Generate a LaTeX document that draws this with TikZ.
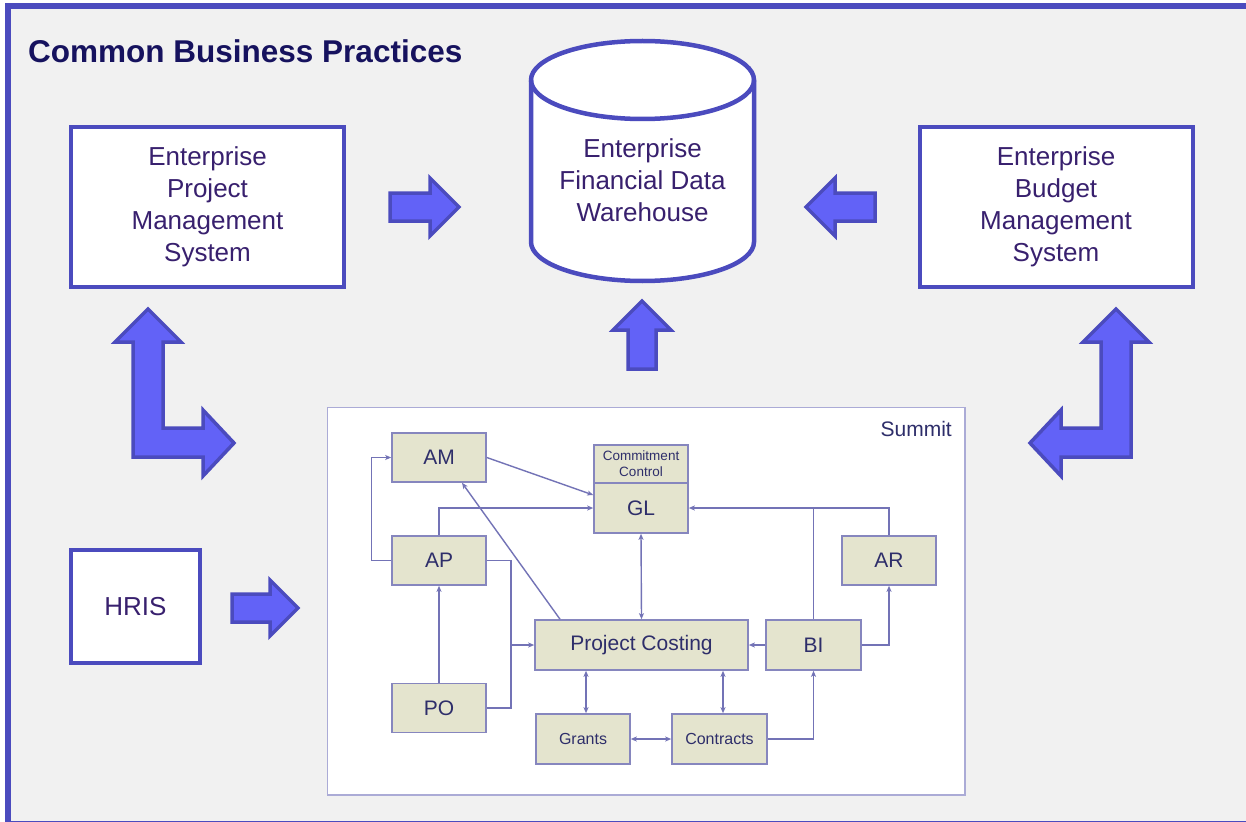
\documentclass[tikz,border=0pt]{standalone}
\usepackage{fontspec}
\setmainfont{Liberation Sans}
\usetikzlibrary{arrows.meta,calc}
\definecolor{framec}{HTML}{4B4BBE}
\definecolor{panelbg}{HTML}{F1F1F1}
\definecolor{arrowfill}{HTML}{6262F7}
\definecolor{titlec}{HTML}{16125E}
\definecolor{bigtext}{HTML}{38206E}
\definecolor{modfill}{HTML}{E4E4CE}
\definecolor{modline}{HTML}{8686BE}
\definecolor{linkc}{HTML}{7373B6}
\definecolor{modtext}{HTML}{2E2E6A}
\definecolor{summitline}{HTML}{ABABD6}
\tikzset{
  bigbox/.style={draw=framec, line width=4pt, fill=white, text=bigtext,
    align=center, font=\fontsize{26}{32}\selectfont, inner sep=0pt},
  blockarrow/.style={draw=framec, fill=arrowfill, line width=3.5pt, line join=miter},
  module/.style={draw=modline, line width=1.6pt, fill=modfill, text=modtext,
    minimum width=94pt, minimum height=49pt, inner sep=0pt,
    font=\fontsize{21}{24}\selectfont},
  smallmod/.style={module, font=\fontsize{16}{18}\selectfont},
  link/.style={draw=linkc, line width=1.4pt,
    -{Stealth[length=6pt,width=5pt,inset=1.5pt]}},
  dlink/.style={link, {Stealth[length=6pt,width=5pt,inset=1.5pt]}-{Stealth[length=6pt,width=5pt,inset=1.5pt]}},
  plain/.style={draw=linkc, line width=1.4pt}
}
\begin{document}
\begin{tikzpicture}[x=1pt,y=-1pt]
\useasboundingbox (0,0) rectangle (1246,821);
\fill[white] (0,0) rectangle (1246,821);
% outer panel
\fill[panelbg] (8,6) rectangle (1262,824);
\draw[framec, line width=6pt] (8,6) rectangle (1262,824);
\node[anchor=base west, text=titlec, font=\bfseries\fontsize{31.5}{36}\selectfont, inner sep=0pt]
  (title) at (28,63) {Common Business Practices};

% enterprise systems
\node[bigbox, minimum width=273pt, minimum height=160pt] (epms) at (207.5,207)
  {Enterprise\\Project\\Management\\System};
\node[bigbox, minimum width=273pt, minimum height=160pt] (ebms) at (1056,207)
  {Enterprise\\Budget\\Management\\System};
\node[bigbox, minimum width=129pt, minimum height=113pt] (hris) at (135.5,606.5) {HRIS};

% data warehouse cylinder (y radius negative because the y axis points down)
\draw[framec, line width=4.5pt, fill=white]
  (531,80) -- (531,242) arc[start angle=180, end angle=360, x radius=111.5, y radius=-39]
  -- (754,80) arc[start angle=0, end angle=180, x radius=111.5, y radius=-39] -- cycle;
\draw[framec, line width=4.5pt]
  (531,80) arc[start angle=180, end angle=360, x radius=111.5, y radius=-39];
\node[text=bigtext, align=center, font=\fontsize{26}{32}\selectfont, inner sep=0pt]
  (fdw) at (642.5,180) {Enterprise\\Financial Data\\Warehouse};

% block arrows
\draw[blockarrow] (390,193) -- (430,193) -- (430,178) -- (459,207) -- (430,236)
  -- (430,221) -- (390,221) -- cycle;
\draw[blockarrow] (875,193) -- (835,193) -- (835,178) -- (806,207) -- (835,236)
  -- (835,221) -- (875,221) -- cycle;
\draw[blockarrow] (628,369) -- (628,330) -- (613,330) -- (642,301) -- (671,330)
  -- (656,330) -- (656,369) -- cycle;
\draw[blockarrow] (232,594) -- (270,594) -- (270,580) -- (298,608) -- (270,636)
  -- (270,622) -- (232,622) -- cycle;
% bent arrows
\draw[blockarrow] (133,457) -- (133,342) -- (115,342) -- (148,309) -- (181,342)
  -- (163,342) -- (163,428) -- (203,428) -- (203,410) -- (234,443) -- (203,476)
  -- (203,457) -- cycle;
\draw[blockarrow] (1131,457) -- (1131,342) -- (1149,342) -- (1116,309) -- (1083,342)
  -- (1101,342) -- (1101,428) -- (1061,428) -- (1061,410) -- (1030,443) -- (1061,476)
  -- (1061,457) -- cycle;

% Summit area
\draw[summitline, line width=1.5pt, fill=white] (327.5,407.5) rectangle (965,795);
\node[anchor=north east, text=modtext, font=\fontsize{21}{24}\selectfont, inner sep=0pt]
  (summit) at (952,421) {Summit};

\node[module] (am) at (439,457.5) {AM};
\node[module] (ap) at (439,560.5) {AP};
\node[module] (po) at (439,708) {PO};
\node[module, minimum height=38pt, font=\fontsize{13.5}{16}\selectfont, align=center]
  (cc) at (641,464) {Commitment\\Control};
\node[module, minimum height=50pt] (gl) at (641,508) {GL};
\node[module] (ar) at (889,560.5) {AR};
\node[module, minimum width=213pt, minimum height=50pt] (pc) at (641.5,645) {Project Costing};
\node[module, minimum width=95pt, minimum height=50pt] (bi) at (813.5,645) {BI};
\node[smallmod, minimum height=50pt] (grants) at (583,739) {Grants};
\node[smallmod, minimum width=95pt, minimum height=50pt] (contracts) at (719.5,739) {Contracts};

% links between modules
\draw[link] (ap.west) -- ++(-20,0) |- (am.west);
\draw[link] (am.east) -- ([yshift=13pt]gl.west);
\draw[link] (ap.north) |- (gl.west);
\draw[link] (po.north) -- (ap.south);
\coordinate (feed) at (511,645);
\draw[plain] (ap.east) -| (feed);
\draw[plain] (po.east) -| (feed);
\draw[link] (feed) -- (pc.west);
\draw[link] ([xshift=-81.5pt]pc.north) -- ([xshift=23pt]am.south);
\draw[dlink] (gl.south) -- (pc.north);
\draw[dlink] ([xshift=3pt]grants.north |- pc.south) -- ([xshift=3pt]grants.north);
\draw[dlink] ([xshift=3.5pt]contracts.north |- pc.south) -- ([xshift=3.5pt]contracts.north);
\draw[dlink] (grants.east) -- (contracts.west);
\draw[link] (contracts.east) -| (bi.south);
\draw[link] (bi.west) -- (pc.east);
\draw[link] (bi.east) -| (ar.south);
\draw[plain] (bi.north) -- (bi.north |- gl.east);
\draw[link] (ar.north) |- (gl.east);
\end{tikzpicture}
\end{document}
